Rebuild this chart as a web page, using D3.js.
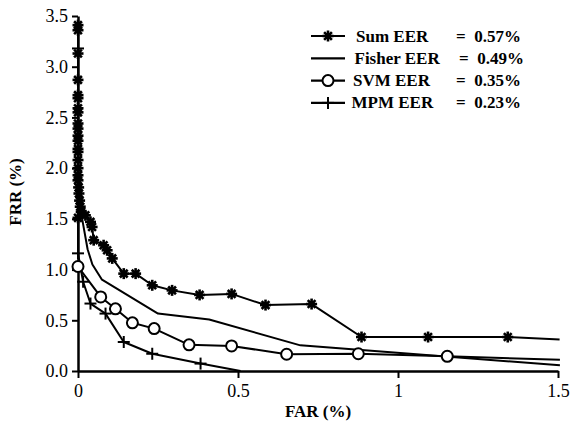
<!DOCTYPE html>
<html>
<head>
<meta charset="utf-8">
<script src="https://cdn.jsdelivr.net/npm/d3@7"></script>
<style>
  body { margin: 0; background: #fff; }
  svg text { font-family: "Liberation Serif", "Tinos", "Times New Roman", "DejaVu Serif", serif !important; }
</style>
</head>
<body>
<div id="chart"></div>
<script>
// Sum (star markers); last point is the line end without a marker
const sumFar = [0, 0, 0, 0, 0, 0, 0, 0, 0, 0, 0, 0, 0, 0, 0, 0, 0, 0, 0,
  0.002, 0.003, 0.005, 0.007, 0.01, 0.023, 0.039, 0.044, 0.049, 0.08, 0.091, 0.107,
  0.143, 0.18, 0.232, 0.294, 0.38, 0.48, 0.586, 0.73, 0.886, 1.094, 1.343, 1.505];
const sumFrr = [3.41, 3.36, 3.13, 2.87, 2.72, 2.69, 2.59, 2.55, 2.44, 2.39, 2.32, 2.27, 2.19, 2.16, 2.08, 2.0, 1.93, 1.88, 1.51,
  1.81, 1.75, 1.68, 1.62, 1.57, 1.535, 1.47, 1.42, 1.29, 1.24, 1.19, 1.11,
  0.96, 0.96, 0.845, 0.795, 0.75, 0.76, 0.65, 0.66, 0.335, 0.335, 0.335, 0.31];

// Fisher (plain line)
const fisherFar = [0.003, 0.013, 0.03, 0.045, 0.075, 0.25, 0.41, 0.695, 1.506];
const fisherFrr = [1.65, 1.5, 1.2, 1.05, 0.9, 0.566, 0.507, 0.253, 0.056];

// SVM (circle markers); last point is line end
const svmFar = [0, 0.071, 0.117, 0.17, 0.238, 0.347, 0.48, 0.652, 0.876, 1.154, 1.506];
const svmFrr = [1.03, 0.73, 0.613, 0.475, 0.418, 0.258, 0.247, 0.165, 0.17, 0.145, 0.11];

// MPM (plus markers); last point is line end
const mpmFar = [0, 0, 0.016, 0.039, 0.086, 0.143, 0.232, 0.383, 0.508];
const mpmFrr = [3.18, 1.16, 0.88, 0.665, 0.566, 0.286, 0.17, 0.073, 0.0];

const legendNames = ["Sum EER", "Fisher EER", "SVM EER", "MPM EER"];
const legendValues = ["= 0.57%", "= 0.49%", "= 0.35%", "= 0.23%"];

const xTicks = [0, 0.5, 1, 1.5];
const yTicks = [0, 0.5, 1, 1.5, 2, 2.5, 3, 3.5];

function zip(xs, ys) { return xs.map((x, i) => ({ x: x, y: ys[i] })); }

const serif = "'Liberation Serif', 'Tinos', 'Times New Roman', 'DejaVu Serif', serif";

const margin = {top: 16, right: 21, bottom: 55, left: 78},
      width = 579 - margin.left - margin.right,
      height = 426 - margin.top - margin.bottom;

var svg = d3.select("#chart")
  .append("svg")
  .attr("width", 579)
  .attr("height", 426)
  .append("g")
  .attr("transform", `translate(${margin.left}, ${margin.top})`);

var x = d3.scaleLinear().domain([0, 1.5]).range([0, 480]);
var y = d3.scaleLinear().domain([0, 3.5]).range([355, 0]);

// axes
var xAxis = svg.append("g")
  .attr("font-family", serif)
  .attr("transform", "translate(0,355)")
  .call(d3.axisBottom(x).tickValues(xTicks).tickSize(7).tickSizeOuter(0)
    .tickFormat(d => d3.format("")(d)));
var yAxis = svg.append("g")
  .attr("font-family", serif)
  .call(d3.axisLeft(y).tickValues(yTicks).tickSize(6).tickSizeOuter(0)
    .tickFormat(d3.format(".1f")));

svg.selectAll(".domain").attr("stroke", "#000").attr("stroke-width", 2.5);
svg.selectAll(".tick line").attr("stroke", "#000").attr("stroke-width", 2);
svg.selectAll(".tick text")
  .attr("fill", "#000")
  .attr("font-family", serif)
  .style("font-size", "18px");
xAxis.selectAll(".tick text").attr("dy", "0.9em");
yAxis.selectAll(".tick text").attr("dx", "-1px");

// axis titles
svg.append("text")
  .attr("x", 240)
  .attr("y", 401)
  .attr("text-anchor", "middle")
  .attr("font-family", serif)
  .style("font-size", "17px")
  .style("font-weight", "bold")
  .text("FAR (%)");
svg.append("text")
  .attr("transform", "translate(-57," + 176 + ") rotate(-90)")
  .attr("text-anchor", "middle")
  .attr("font-family", serif)
  .style("font-size", "17px")
  .style("font-weight", "bold")
  .text("FRR (%)");

const line = d3.line()
  .x(d => x(d.x))
  .y(d => y(d.y));

function drawLine(data) {
  svg.append("path")
    .datum(data)
    .attr("fill", "none")
    .attr("stroke", "#000")
    .attr("stroke-width", 2)
    .attr("stroke-linejoin", "round")
    .attr("d", line);
}

function starMarker(g) {
  [0, 45, 90, 135].forEach(a => {
    g.append("line")
      .attr("x1", 0).attr("y1", -5.5).attr("x2", 0).attr("y2", 5.5)
      .attr("transform", "rotate(" + a + ")")
      .attr("stroke", "#000").attr("stroke-width", 2.6);
  });
  g.append("circle").attr("r", 3.2).attr("fill", "#000");
}
function plusMarker(g) {
  g.append("line").attr("x1", -6).attr("x2", 6).attr("y1", 0).attr("y2", 0)
    .attr("stroke", "#000").attr("stroke-width", 2);
  g.append("line").attr("x1", 0).attr("x2", 0).attr("y1", -6).attr("y2", 6)
    .attr("stroke", "#000").attr("stroke-width", 2);
}
function circleMarker(g) {
  g.append("circle").attr("r", 5.5)
    .attr("fill", "#fff").attr("stroke", "#000").attr("stroke-width", 2);
}

var sumData = zip(sumFar, sumFrr),
    fisherData = zip(fisherFar, fisherFrr),
    svmData = zip(svmFar, svmFrr),
    mpmData = zip(mpmFar, mpmFrr);

drawLine(fisherData);
drawLine(mpmData);
drawLine(svmData);
drawLine(sumData);

function drawMarkers(data, fn) {
  data.forEach(d => {
    var g = svg.append("g").attr("transform", `translate(${x(d.x)},${y(d.y)})`);
    fn(g);
  });
}
drawMarkers(mpmData.slice(0, -1), plusMarker);
drawMarkers(svmData.slice(0, -1), circleMarker);
drawMarkers(sumData.slice(0, -1), starMarker);

// legend
var legend = svg.append("g").attr("transform", "translate(233,20)");
var markers = [starMarker, null, circleMarker, plusMarker];
legendNames.forEach((name, i) => {
  var row = legend.append("g").attr("transform", "translate(0," + (i * 22.3) + ")");
  row.append("line").attr("x1", 0).attr("x2", 34).attr("y1", 0).attr("y2", 0)
    .attr("stroke", "#000").attr("stroke-width", 2.2);
  if (markers[i]) markers[i](row.append("g").attr("transform", "translate(17,0)"));
  row.append("text")
    .attr("x", 45 - i * 1.5)
    .attr("y", 5.5)
    .attr("font-family", serif)
    .style("font-size", "17px")
    .style("font-weight", "bold")
    .text(name);
  row.append("text")
    .attr("x", i == 1 ? 148 : 145)
    .attr("y", 5.5)
    .attr("font-family", serif)
    .style("font-size", "17px")
    .style("font-weight", "bold")
    .attr("xml:space", "preserve")
    .text(legendValues[i].replace("= ", "=  "));
});
</script>
</body>
</html>
